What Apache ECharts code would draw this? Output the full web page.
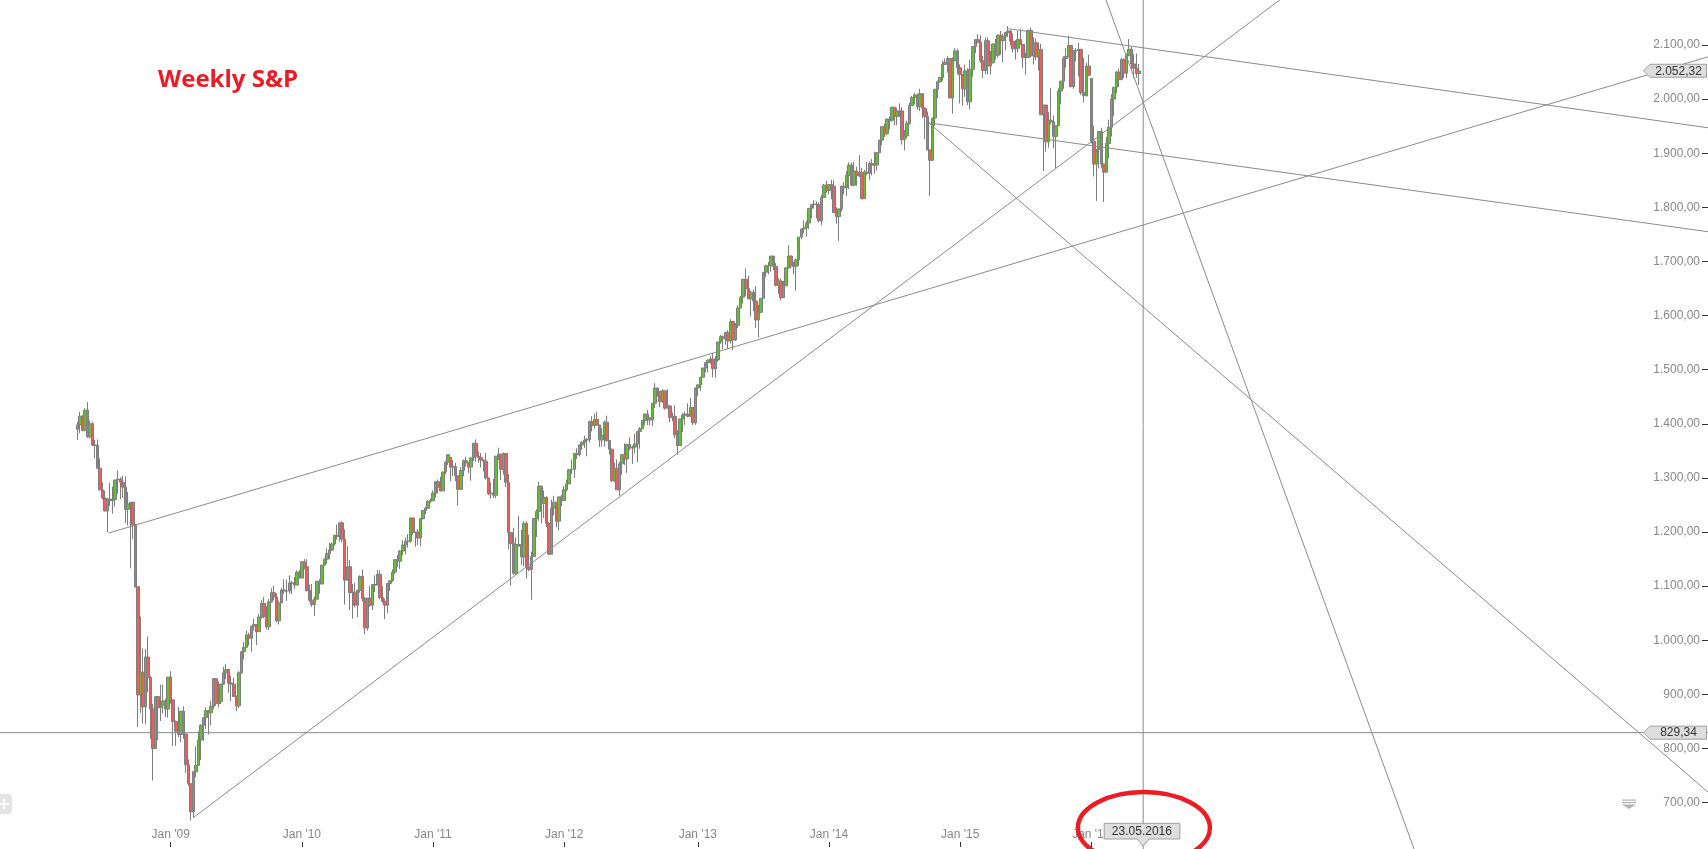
<!DOCTYPE html>
<html>
<head>
<meta charset="utf-8">
<script src="https://cdn.jsdelivr.net/npm/echarts@6/dist/echarts.min.js"></script>
<style>
html,body{margin:0;padding:0;background:#fff;overflow:hidden;}
#main{width:1708px;height:849px;}
</style>
</head>
<body>
<div id="main"></div>
<script>
// ---------- DATA ----------
// Weekly S&P 500 candles [open, high, low, close], one row per week, first week starts 2008-04-21
const firstWeek = '2008-04-21';
const w2008 = [
[1390,1404,1370,1398],[1398,1422,1383,1414],[1414,1416,1386,1388],[1388,1429,1386,1425],[1425,1440,1374,1376],[1376,1406,1373,1400],
[1400,1404,1359,1361],[1361,1370,1336,1360],[1360,1371,1317,1318],[1318,1336,1277,1278],[1278,1292,1260,1263],
[1263,1277,1238,1239],[1239,1262,1200,1261],[1261,1291,1248,1258],[1258,1284,1234,1260],
[1260,1297,1247,1296],[1296,1314,1271,1298],[1298,1301,1261,1292],[1292,1304,1263,1283],
[1283,1303,1217,1242],[1242,1274,1212,1252],[1252,1255,1133,1255],[1255,1256,1187,1213],[1213,1215,1097,1099],
[1099,1099,840,899],[899,1044,866,941],[941,985,846,877],[877,984,845,969],
[969,1007,904,931],[931,934,818,873],[873,882,741,800],[800,896,800,896],
[896,896,815,876],[876,918,851,880],[880,918,865,888],[888,892,858,873],[873,932,857,932]
];
const w2009 = [
[932,943,883,890],[890,891,805,850],[850,852,805,832],[832,877,821,826],
[826,870,812,869],[869,878,818,827],[827,827,755,770],[770,780,731,735],
[735,735,667,683],[683,758,672,757],[757,804,747,769],[769,832,768,816],[816,845,779,843],
[843,857,814,857],[857,876,836,870],[870,871,826,866],[866,888,843,878],
[878,930,873,929],[929,930,879,883],[883,924,876,887],[887,920,882,919],
[919,951,918,940],[940,956,928,946],[946,946,903,921],[921,935,888,919],[919,931,896,896],
[896,898,869,879],[879,943,875,940],[940,980,938,979],[979,997,965,987],
[987,1018,986,1010],[1010,1014,990,1004],[1004,1027,979,1026],[1026,1040,1018,1029],[1029,1029,991,1016],
[1016,1049,1016,1043],[1043,1074,1040,1068],[1068,1080,1041,1044],[1044,1063,1020,1025],
[1025,1076,1019,1071],[1071,1096,1070,1088],[1088,1101,1074,1080],[1080,1087,1033,1036],
[1036,1072,1029,1069],[1069,1097,1069,1093],[1093,1113,1086,1091],[1091,1112,1073,1091],[1091,1120,1086,1106],
[1106,1110,1085,1106],[1106,1117,1095,1102],[1102,1129,1102,1126],[1126,1130,1115,1115]
];
const w2010 = [
[1115,1146,1115,1145],[1145,1150,1131,1136],[1136,1150,1090,1092],[1092,1103,1071,1074],
[1074,1104,1062,1066],[1066,1081,1045,1076],[1076,1110,1076,1109],[1109,1113,1086,1104],
[1104,1139,1104,1139],[1139,1151,1138,1150],[1150,1170,1141,1160],[1160,1180,1150,1167],[1167,1181,1165,1178],
[1178,1195,1175,1194],[1194,1214,1186,1192],[1192,1217,1183,1217],[1217,1220,1181,1187],
[1187,1205,1066,1111],[1111,1174,1111,1136],[1136,1148,1056,1088],[1088,1104,1040,1089],[1089,1106,1061,1065],
[1065,1094,1043,1092],[1092,1120,1088,1118],[1118,1131,1072,1077],[1077,1080,1011,1023],
[1023,1078,1018,1078],[1078,1100,1062,1065],[1065,1103,1056,1103],[1103,1120,1089,1102],
[1102,1130,1102,1122],[1122,1129,1076,1079],[1079,1100,1069,1072],[1072,1077,1039,1065],[1065,1105,1050,1105],
[1105,1111,1091,1110],[1110,1131,1108,1126],[1126,1149,1122,1149],[1149,1158,1135,1146],
[1146,1167,1132,1165],[1165,1185,1157,1176],[1176,1190,1159,1183],[1183,1196,1171,1183],
[1183,1227,1180,1226],[1226,1227,1195,1199],[1199,1200,1173,1200],[1200,1206,1176,1189],[1189,1225,1174,1225],
[1225,1240,1223,1240],[1240,1247,1233,1244],[1244,1259,1243,1257],[1257,1262,1254,1258]
];
const w2011 = [
[1258,1277,1257,1272],[1272,1294,1264,1293],[1293,1297,1271,1283],[1283,1302,1275,1276],[1276,1311,1276,1311],
[1311,1331,1307,1329],[1329,1344,1324,1343],[1338,1338,1294,1320],[1320,1333,1303,1321],
[1321,1328,1294,1304],[1304,1304,1249,1279],[1279,1320,1279,1314],[1314,1334,1303,1332],
[1332,1339,1321,1328],[1328,1329,1309,1320],[1320,1338,1295,1337],[1337,1364,1331,1364],
[1364,1371,1330,1340],[1340,1349,1328,1338],[1338,1346,1319,1333],[1333,1334,1312,1331],[1331,1346,1297,1300],
[1300,1300,1268,1271],[1271,1292,1262,1272],[1272,1298,1263,1268],[1268,1341,1263,1340],
[1340,1356,1333,1344],[1344,1344,1296,1316],[1316,1347,1306,1345],[1345,1345,1283,1292],
[1292,1307,1168,1199],[1199,1199,1101,1179],[1179,1208,1121,1124],[1124,1190,1121,1177],[1177,1230,1174,1174],
[1174,1204,1140,1154],[1154,1220,1137,1216],[1216,1220,1114,1136],[1136,1195,1128,1131],
[1131,1164,1075,1155],[1155,1225,1154,1225],[1225,1242,1191,1238],[1238,1293,1221,1285],[1285,1285,1216,1253],
[1253,1277,1226,1264],[1264,1266,1209,1216],[1216,1219,1158,1159],[1159,1260,1159,1244],
[1244,1267,1231,1255],[1255,1256,1209,1220],[1220,1265,1203,1265],[1265,1269,1248,1258]
];
const w2012 = [
[1258,1285,1258,1278],[1278,1297,1275,1289],[1289,1316,1289,1315],[1315,1334,1307,1316],[1316,1346,1300,1345],
[1345,1355,1335,1343],[1343,1362,1340,1361],[1361,1368,1352,1366],[1366,1378,1355,1370],
[1370,1374,1340,1371],[1371,1406,1365,1404],[1404,1414,1386,1397],[1397,1419,1391,1408],
[1408,1422,1396,1398],[1398,1398,1357,1370],[1370,1392,1358,1379],[1379,1406,1358,1403],[1403,1415,1367,1369],
[1369,1370,1343,1353],[1353,1354,1292,1295],[1295,1328,1292,1318],[1318,1334,1278,1278],
[1278,1330,1267,1326],[1326,1343,1306,1343],[1343,1364,1324,1335],[1335,1363,1309,1362],
[1362,1375,1351,1355],[1355,1360,1326,1357],[1357,1381,1345,1363],[1363,1386,1329,1386],[1386,1394,1354,1391],
[1391,1408,1391,1406],[1406,1419,1397,1418],[1418,1426,1398,1411],[1411,1413,1397,1407],
[1407,1438,1396,1438],[1438,1475,1429,1466],[1466,1467,1450,1460],[1460,1460,1431,1441],
[1441,1464,1439,1461],[1461,1461,1426,1429],[1429,1464,1429,1433],[1433,1435,1403,1412],[1412,1421,1405,1414],
[1414,1434,1373,1380],[1380,1388,1343,1360],[1360,1409,1360,1409],[1409,1420,1385,1416],
[1416,1423,1398,1418],[1418,1438,1412,1414],[1414,1448,1413,1430],[1430,1431,1398,1402],[1402,1467,1398,1466]
];
const w2013 = [
[1466,1473,1451,1472],[1472,1486,1461,1486],[1486,1504,1485,1503],[1503,1514,1495,1513],
[1513,1518,1495,1518],[1518,1525,1511,1520],[1520,1531,1486,1502],[1502,1525,1485,1518],
[1518,1552,1515,1551],[1551,1564,1548,1561],[1561,1563,1538,1557],[1557,1570,1546,1569],
[1569,1573,1539,1553],[1553,1594,1548,1589],[1589,1589,1536,1555],[1555,1586,1553,1582],[1582,1619,1577,1614],
[1614,1636,1614,1634],[1634,1668,1622,1667],[1667,1687,1636,1650],[1650,1674,1630,1631],
[1631,1646,1598,1643],[1643,1648,1608,1627],[1627,1654,1577,1592],[1592,1620,1560,1606],
[1606,1632,1605,1632],[1632,1680,1632,1680],[1680,1694,1671,1692],[1692,1699,1676,1692],[1692,1710,1681,1710],
[1710,1710,1684,1691],[1691,1697,1654,1656],[1656,1669,1640,1664],[1664,1669,1628,1633],
[1633,1664,1633,1655],[1655,1690,1655,1688],[1688,1730,1687,1710],[1710,1711,1687,1692],[1692,1699,1676,1691],
[1691,1705,1646,1703],[1703,1745,1692,1745],[1745,1760,1741,1760],[1760,1776,1752,1762],
[1762,1775,1746,1771],[1771,1799,1760,1798],[1798,1806,1780,1805],[1805,1813,1798,1806],
[1806,1811,1780,1805],[1805,1809,1772,1775],[1775,1823,1767,1818],[1818,1843,1818,1841],[1841,1849,1827,1831]
];
const w2014 = [
[1831,1843,1824,1842],[1842,1851,1815,1839],[1839,1850,1790,1790],[1790,1800,1770,1783],
[1783,1798,1738,1797],[1797,1840,1792,1839],[1839,1847,1824,1836],[1836,1867,1821,1859],
[1859,1883,1834,1878],[1878,1883,1839,1841],[1841,1884,1839,1867],[1867,1875,1840,1858],[1858,1897,1856,1865],
[1865,1873,1815,1816],[1816,1869,1816,1865],[1865,1884,1859,1863],[1863,1885,1851,1881],
[1881,1889,1859,1878],[1878,1903,1862,1878],[1878,1901,1868,1901],[1901,1925,1901,1924],
[1924,1950,1915,1949],[1949,1955,1930,1936],[1936,1964,1933,1963],[1963,1968,1944,1961],[1961,1986,1958,1985],
[1985,1985,1952,1968],[1968,1984,1952,1978],[1978,1992,1967,1978],[1978,1985,1916,1925],
[1925,1943,1905,1932],[1932,1960,1928,1955],[1955,1993,1953,1988],[1988,2006,1988,2003],
[2003,2012,1990,2008],[2008,2010,1980,1986],[1986,2019,1978,2010],[2010,2010,1965,1983],[1983,1985,1926,1968],
[1968,1977,1906,1906],[1906,1906,1821,1887],[1887,1965,1886,1965],[1965,2019,1950,2018],
[2018,2034,2002,2032],[2032,2041,2030,2040],[2040,2071,2034,2064],[2064,2075,2064,2068],
[2068,2079,2049,2075],[2075,2076,2002,2002],[2002,2077,1973,2071],[2071,2094,2070,2089],[2089,2093,2046,2058]
];
const w2015 = [
[2058,2064,1992,2045],[2045,2046,1988,2019],[2019,2064,2004,2052],[2052,2057,1989,1995],
[1995,2073,1981,2055],[2055,2097,2041,2097],[2097,2110,2085,2110],[2110,2120,2103,2105],
[2105,2118,2067,2071],[2071,2080,2039,2053],[2053,2114,2046,2108],[2108,2114,2046,2061],[2061,2089,2045,2067],
[2067,2103,2066,2102],[2102,2111,2073,2081],[2081,2120,2077,2118],[2118,2126,2082,2108],
[2108,2120,2068,2116],[2116,2123,2090,2123],[2123,2135,2115,2126],[2126,2127,2099,2107],
[2107,2121,2086,2093],[2093,2109,2073,2094],[2094,2126,2086,2110],[2110,2130,2101,2101],[2101,2102,2057,2077],
[2077,2086,2045,2077],[2077,2128,2077,2127],[2127,2132,2077,2080],[2080,2114,2064,2104],
[2104,2112,2072,2078],[2078,2105,2053,2092],[2092,2102,1971,1971],[1971,1989,1867,1989],[1989,1989,1903,1921],
[1921,1976,1910,1961],[1961,2021,1953,1958],[1958,1970,1909,1931],[1931,1951,1872,1951],
[1951,2020,1951,2015],[2015,2034,1990,2033],[2033,2079,2019,2075],[2075,2094,2058,2079],
[2079,2117,2077,2099],[2099,2099,2022,2023],[2023,2090,2019,2089],[2089,2094,2070,2090],[2090,2104,2042,2092],
[2092,2092,2008,2012],[2012,2076,1994,2006],[2006,2067,2005,2061],[2061,2082,2043,2044]
];
const w2016 = [
[2038,2038,1918,1922],[1922,1951,1857,1880],[1880,1901,1812,1907],[1907,1940,1872,1940],
[1940,1947,1872,1880],[1880,1881,1810,1865],[1865,1930,1865,1918],[1918,1962,1891,1948],[1948,2009,1931,2000],
[2000,2022,1969,2022],[2022,2052,2011,2050],[2050,2056,2022,2036],[2036,2076,2035,2073],
[2073,2075,2039,2048],[2048,2084,2039,2081],[2081,2111,2079,2092],[2092,2097,2053,2065],
[2065,2083,2039,2057],[2057,2084,2039,2047],[2047,2065,2026,2052]
];

// Axis ticks
const xTickDates  = ['2009-01-05','2010-01-04','2011-01-03','2012-01-02','2013-01-07','2014-01-06','2015-01-05','2016-01-04'];
const xTickLabels = ["Jan '09","Jan '10","Jan '11","Jan '12","Jan '13","Jan '14","Jan '15","Jan '16"];
const yTicks = [700,800,900,1000,1100,1200,1300,1400,1500,1600,1700,1800,1900,2000,2100];

// Drawn annotations (date, value)
const supportLine2008 = [['2008-07-16',1198],['2020-09-10',2078]];
const supportLine2009 = [['2009-03-10',673],['2016-10-31',2072]];
const topLine2015     = [['2015-05-19',2130],['2020-09-10',1947]];
const channelLine2014 = [['2014-10-10',1956],['2020-09-10',1755]];
const fallLine2014    = [['2014-10-10',1956],['2020-09-10',720]];
const steepLine       = [['2016-02-14',2183],['2018-06-18',614]];
const levelValue = 829.34;
const lastClose  = 2052.32;
const markDate   = '2016-05-27';
const markLabel  = '23.05.2016';
const titleText  = 'Weekly S&P';

// ---------- BUILD ----------
const DAY = 86400000, WEEK = 7 * DAY;
function utc(s){ const p = s.split('-').map(Number); return Date.UTC(p[0], p[1]-1, p[2]); }
const xRef = utc('2009-01-05');
const xMin = xRef - 473.8 * DAY;
const xMax = xRef + 4266.6 * DAY;
const yMin = 614.4, yMax = 2183.1;

const weekly = [].concat(w2008, w2009, w2010, w2011, w2012, w2013, w2014, w2015, w2016);
const t0 = utc(firstWeek);
const candleData = weekly.map((r, i) => [t0 + i * WEEK, r[0], r[3], r[2], r[1]]);

const xTickValues = xTickDates.map(utc);

function deNum(v){
  const s = Number(v).toFixed(2).split('.');
  return s[0].replace(/\B(?=(\d{3})+(?!\d))/g, '.') + ',' + s[1];
}
function ray(pts, both){
  const a = [utc(pts[0][0]), pts[0][1]], b = [utc(pts[1][0]), pts[1][1]];
  const k = (b[1] - a[1]) / (b[0] - a[0]);
  const start = both ? [xMin, a[1] + k * (xMin - a[0])] : a;
  return [start, [xMax, a[1] + k * (xMax - a[0])]];
}
const markT = utc(markDate);
const lineSets = [
  ray(supportLine2008), ray(supportLine2009), ray(topLine2015),
  ray(channelLine2014), ray(fallLine2014), ray(steepLine, true),
  [[xMin, levelValue], [xMax, levelValue]],
  [[markT, yMax], [markT, yMin]]
];

const FONT = '"Liberation Sans", Arial, sans-serif';
const chart = echarts.init(document.getElementById('main'), null, {renderer: 'canvas'});
const option = {
  animation: false,
  backgroundColor: '#ffffff',
  grid: {left: 0, right: 0, top: 0, bottom: 0, containLabel: false},
  xAxis: {
    type: 'value', min: xMin, max: xMax, offset: -2, scale: true,
    axisLine: {show: false},
    axisTick: {show: true, inside: true, length: 5, customValues: xTickValues, lineStyle: {color: '#333', width: 1}},
    axisLabel: {
      show: true, inside: true, margin: 6, customValues: xTickValues,
      formatter: function(v){
        let best = 0, d = Infinity;
        xTickValues.forEach((t, i) => { if (Math.abs(t - v) < d) { d = Math.abs(t - v); best = i; } });
        return xTickLabels[best];
      },
      color: '#888', fontSize: 12, fontFamily: FONT
    },
    splitLine: {show: false}
  },
  yAxis: {
    type: 'value', position: 'right', min: yMin, max: yMax, scale: true,
    axisLine: {show: false},
    axisTick: {show: true, inside: true, length: 6, customValues: yTicks, lineStyle: {color: '#333', width: 1}},
    axisLabel: {show: true, inside: true, margin: 8, customValues: yTicks, formatter: deNum, color: '#888', fontSize: 12, fontFamily: FONT},
    splitLine: {show: false}
  },
  series: [
    {
      type: 'candlestick', data: candleData, barWidth: 3, silent: true, z: 2,
      itemStyle: {color: '#62c130', color0: '#f25c5c', borderColor: '#7d7d7d', borderColor0: '#7d7d7d', borderColorDoji: '#7d7d7d', borderWidth: 1}
    }
  ].concat(lineSets.map(d => ({
    type: 'line', data: d, symbol: 'none', silent: true, clip: true, z: 3,
    lineStyle: {color: '#8a8a8a', width: 1}
  })))
};
chart.setOption(option);

// ---------- OVERLAY (tags, title, icons) ----------
const W = chart.getWidth(), H = chart.getHeight();
const yLast  = chart.convertToPixel({yAxisIndex: 0}, lastClose);
const yLevel = chart.convertToPixel({yAxisIndex: 0}, levelValue);
const xMark  = chart.convertToPixel({xAxisIndex: 0}, markT);

function priceTag(y, text){
  return [
    {type: 'polygon', z: 100, shape: {points: [[W-64.5, y], [W-58, y-6.5], [W-1.5, y-6.5], [W-1.5, y+6.5], [W-58, y+6.5]]},
     style: {fill: '#dedede', stroke: '#a0a0a0', lineWidth: 1}},
    {type: 'text', z: 101, x: W-29.5, y: y + 0.5,
     style: {text: text, fill: '#333', font: '12px ' + FONT, align: 'center', verticalAlign: 'middle'}}
  ];
}
const tagTop = H - 25.7, tagBot = H - 10;
const graphics = [].concat(
  priceTag(yLast, deNum(lastClose)),
  priceTag(yLevel, deNum(levelValue)),
  [
    {type: 'polygon', z: 100, shape: {points: [[xMark-39, tagTop], [xMark+36.7, tagTop], [xMark+36.7, tagBot], [xMark+6, tagBot], [xMark, tagBot+7], [xMark-6, tagBot], [xMark-39, tagBot]]},
     style: {fill: '#dedede', stroke: '#a0a0a0', lineWidth: 1}},
    {type: 'text', z: 101, x: xMark - 1.3, y: (tagTop + tagBot) / 2 + 0.5,
     style: {text: markLabel, fill: '#333', font: '12px ' + FONT, align: 'center', verticalAlign: 'middle'}},
    {type: 'ellipse', z: 110, shape: {cx: xMark + 0.7, cy: H - 21.2, rx: 66, ry: 35.8},
     style: {fill: null, stroke: '#ed1c24', lineWidth: 4.5}},
    {type: 'text', z: 110, x: 158, y: 80.2,
     style: {text: titleText, fill: '#ed1c24', font: 'bold 24px "Open Sans", sans-serif', align: 'left', verticalAlign: 'middle'}},
    {type: 'rect', z: 100, shape: {x: -8, y: H-55, width: 20, height: 20, r: 3}, style: {fill: '#e4e4e4'}},
    {type: 'rect', z: 101, shape: {x: 3, y: H-50, width: 2, height: 10}, style: {fill: '#ffffff'}},
    {type: 'rect', z: 101, shape: {x: -1, y: H-46, width: 10, height: 2}, style: {fill: '#ffffff'}},
    {type: 'rect', z: 100, shape: {x: 1622, y: 799.5, width: 14, height: 1.2}, style: {fill: '#b4b4b4'}},
    {type: 'rect', z: 100, shape: {x: 1622, y: 802, width: 14, height: 1.2}, style: {fill: '#b4b4b4'}},
    {type: 'polygon', z: 100, shape: {points: [[1622, 804.5], [1636, 804.5], [1629, 809]]}, style: {fill: '#b4b4b4'}}
  ]
);
chart.setOption({graphic: graphics});
</script>
</body>
</html>
